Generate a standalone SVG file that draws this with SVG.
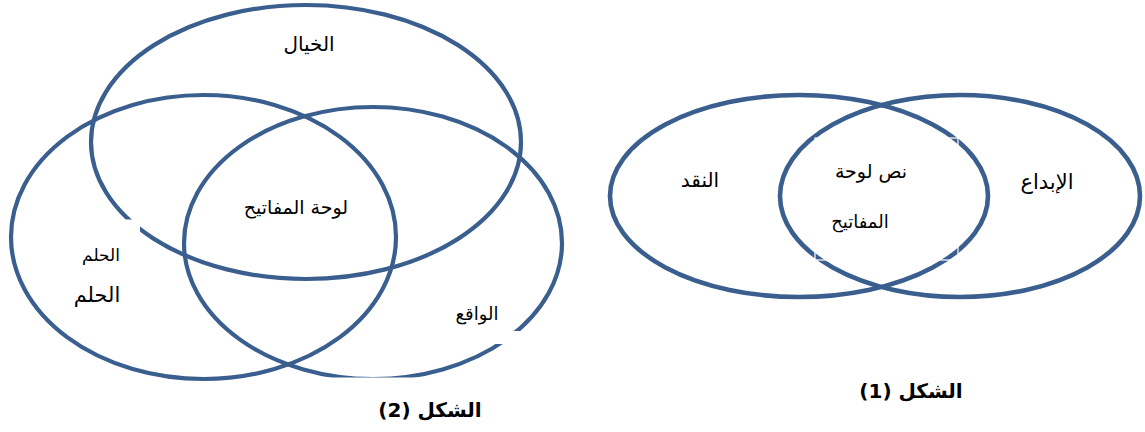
<svg xmlns="http://www.w3.org/2000/svg" width="1145" height="432" viewBox="0 0 1145 432">
  <style>
    .ring { fill: none; stroke: #3A5F8F; stroke-width: 4.2; }
    .ring1 { fill: none; stroke: #3A5F8F; stroke-width: 4.6; }
    .lbl { font-family: "DejaVu Sans", sans-serif; font-size: 19px; fill: #000; text-anchor: middle; direction: rtl; }
    .cap { font-family: "DejaVu Sans", sans-serif; font-size: 20px; font-weight: bold; fill: #000; text-anchor: middle; direction: rtl; }
    .mask { fill: #fff; stroke: none; }
  </style>
  <rect width="1145" height="432" fill="#fff"/>

  <!-- Figure 2 -->
  <g id="connectors"></g>
  <g id="fig2-imagination">
    <ellipse class="ring" cx="306" cy="142" rx="215" ry="137"/>
    <text class="lbl" x="309" y="51" style="font-size:20px">الخيال</text>
  </g>
  <g id="fig2-dream">
    <ellipse class="ring" cx="203.5" cy="237" rx="192.5" ry="142"/>
  </g>
  <g id="fig2-reality">
    <ellipse class="ring" cx="373" cy="243" rx="189" ry="136"/>
  </g>
  <rect class="mask" x="60" y="219.5" width="80" height="100"/>
  <rect class="mask" x="485" y="331" width="45" height="13"/>
  <rect class="mask" x="320" y="377.5" width="190" height="50"/>
  <g id="fig2-labels">
    <text class="lbl" x="296" y="214">لوحة المفاتيح</text>
    <text class="lbl" x="101" y="261" style="font-size:17px">الحلم</text>
    <text class="lbl" x="97" y="302" style="font-size:21px">الحلم</text>
    <text class="lbl" x="477" y="320" style="font-size:18px">الواقع</text>
  </g>
  <g id="fig2-caption">
    <text class="cap" x="430" y="417">الشكل (2)</text>
  </g>

  <!-- Figure 1 -->
  <g id="fig1-criticism">
    <ellipse class="ring1" cx="799" cy="196" rx="189" ry="101"/>
    <text class="lbl" x="700" y="187" style="font-size:20px">النقد</text>
  </g>
  <g id="fig1-creativity">
    <ellipse class="ring1" cx="960" cy="196" rx="180" ry="101"/>
    <text class="lbl" x="1047" y="189" style="font-size:21px">الإبداع</text>
  </g>
  <g id="fig1-center">
    <rect x="815" y="138" width="143" height="122" fill="none" stroke="#fff" stroke-width="1.2"/>
    <text class="lbl" x="871" y="178">نص لوحة</text>
    <text class="lbl" x="860" y="228" style="font-size:18px">المفاتيح</text>
  </g>
  <g id="fig1-caption">
    <text class="cap" x="911" y="398">الشكل (1)</text>
  </g>
</svg>
